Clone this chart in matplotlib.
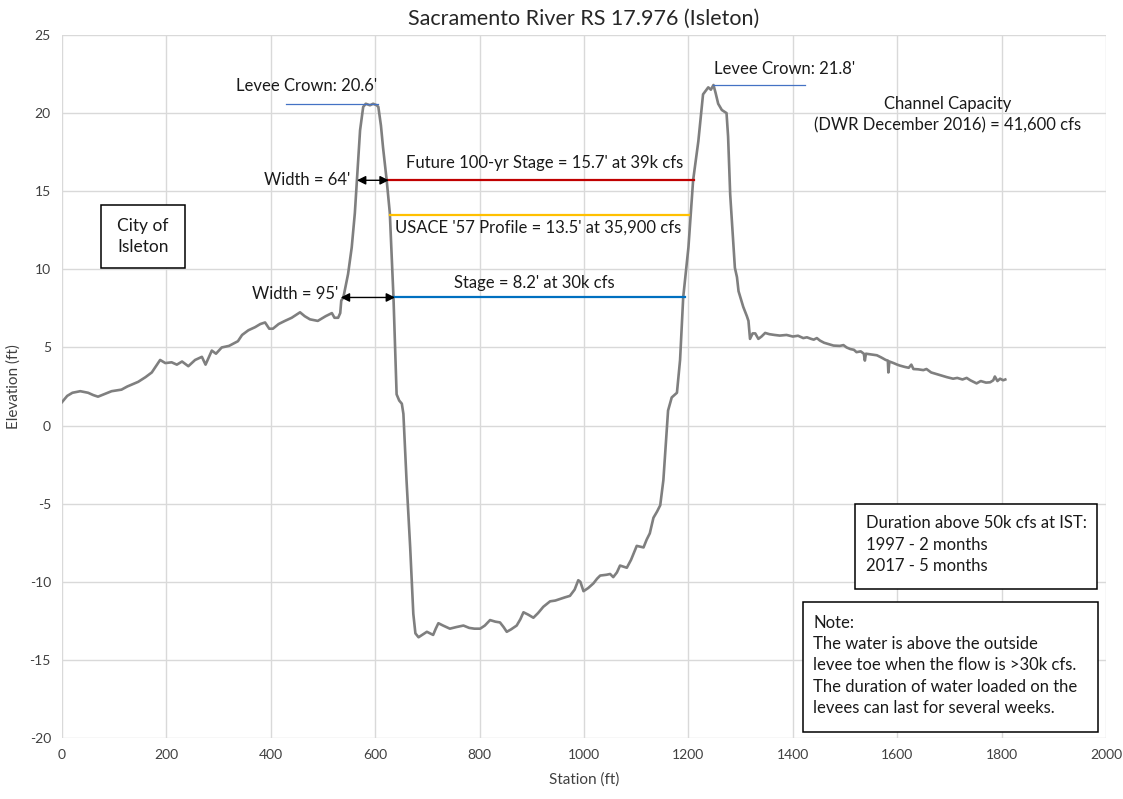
import matplotlib
matplotlib.use("Agg")
import matplotlib.pyplot as plt
from matplotlib.patches import Rectangle

plt.rcParams['font.family'] = ['Lato', 'DejaVu Sans']
plt.rcParams['axes.unicode_minus'] = False

# ---- data ----
station = [0, 10, 20, 35, 50, 60, 69, 80, 95, 114, 125, 146, 160, 172, 182, 188, 198, 210, 220, 230,
           242, 255, 268, 275, 287, 295, 306, 320, 337, 345, 357, 370, 380, 389, 397, 404, 415, 427, 440, 456,
           465, 475, 490, 505, 517, 522, 529, 533, 535, 539, 548, 555, 561, 565, 571, 577, 582, 590, 596, 603,
           606, 611, 615, 622, 628, 635, 638, 641, 646, 651, 654, 660, 667, 673, 677, 683, 690, 699, 705, 711,
           716, 721, 730, 743, 755, 769, 780, 790, 801, 810, 820, 830, 839, 846, 852, 860, 871, 878, 884, 893,
           903, 912, 922, 935, 945, 954, 963, 973, 982, 989, 993, 999, 1008, 1018, 1025, 1031, 1043, 1050, 1056, 1063,
           1069, 1082, 1090, 1101, 1108, 1114, 1120, 1126, 1133, 1140, 1146, 1152, 1157, 1161, 1168, 1178, 1184, 1190, 1200, 1209,
           1219, 1228, 1238, 1243, 1248, 1252, 1257, 1264, 1273, 1276, 1280, 1289, 1293, 1296, 1305, 1312, 1315, 1318, 1323, 1328,
           1334, 1340, 1347, 1355, 1365, 1375, 1388, 1400, 1410, 1420, 1427, 1435, 1440, 1446, 1452, 1460, 1470, 1478, 1490, 1497,
           1503, 1510, 1517, 1522, 1530, 1536, 1538, 1540, 1550, 1561, 1570, 1578, 1582, 1583, 1585, 1593, 1600, 1605, 1615, 1622,
           1627, 1631, 1640, 1650, 1656, 1665, 1675, 1685, 1695, 1707, 1715, 1725, 1733, 1740, 1752, 1760, 1770, 1778, 1784, 1787,
           1792, 1797, 1803, 1807]
elevation = [1.5, 1.9, 2.1, 2.2, 2.1, 1.95, 1.85, 2.0, 2.2, 2.3, 2.5, 2.8, 3.1, 3.4, 3.9, 4.2, 4.0, 4.05, 3.9, 4.1,
             3.8, 4.2, 4.4, 3.9, 4.8, 4.6, 5.0, 5.1, 5.4, 5.8, 6.1, 6.3, 6.5, 6.6, 6.2, 6.2, 6.5, 6.7, 6.9, 7.25,
             7.0, 6.8, 6.7, 7.0, 7.2, 6.9, 6.9, 7.2, 8.0, 8.2, 9.7, 11.4, 13.6, 15.7, 18.9, 20.4, 20.6, 20.5, 20.6, 20.5,
             20.4, 19.2, 17.8, 15.7, 13.6, 8.2, 5.0, 2.0, 1.6, 1.4, 0.75, -3.5, -7.8, -12.05, -13.3, -13.55, -13.4, -13.2, -13.3, -13.4,
             -13.0, -12.65, -12.8, -13.0, -12.9, -12.8, -12.95, -13.0, -13.0, -12.8, -12.45, -12.55, -12.6, -12.9, -13.2, -13.05, -12.8, -12.4, -11.95, -12.1,
             -12.3, -12.0, -11.6, -11.25, -11.2, -11.1, -11.0, -10.9, -10.5, -9.9, -10.0, -10.6, -10.4, -10.1, -9.8, -9.6, -9.55, -9.5, -9.7, -9.4,
             -8.96, -9.1, -8.6, -7.7, -7.75, -7.8, -7.3, -6.9, -5.9, -5.5, -5.1, -3.5, -1.0, 0.96, 1.8, 2.1, 4.2, 8.2, 11.4, 15.7,
             18.2, 21.2, 21.65, 21.5, 21.8, 21.3, 20.6, 20.2, 20.0, 18.5, 14.8, 10.1, 9.5, 8.6, 7.6, 7.0, 6.7, 5.55, 5.9, 5.9,
             5.55, 5.7, 5.93, 5.85, 5.8, 5.76, 5.8, 5.7, 5.75, 5.6, 5.65, 5.55, 5.5, 5.6, 5.44, 5.3, 5.2, 5.12, 5.1, 5.15,
             5.0, 4.9, 4.85, 4.7, 4.75, 4.6, 4.16, 4.6, 4.55, 4.5, 4.35, 4.2, 4.16, 3.4, 4.1, 4.0, 3.9, 3.84, 3.75, 3.7,
             3.9, 3.62, 3.6, 3.55, 3.62, 3.4, 3.3, 3.2, 3.1, 3.0, 3.05, 2.95, 3.05, 2.9, 2.7, 2.85, 2.75, 2.77, 2.9, 3.14,
             2.85, 3.0, 2.9, 2.95]

left_crown = 20.6
right_crown = 21.8
future_stage = 15.7
usace_stage = 13.5
stage_30k = 8.2

x_ticks = [0, 200, 400, 600, 800, 1000, 1200, 1400, 1600, 1800, 2000]
y_ticks = [-20, -15, -10, -5, 0, 5, 10, 15, 20, 25]

fig = plt.figure(figsize=(11.23, 7.99), dpi=100)
ax = fig.add_axes([0.0552, 0.0763, 0.9297, 0.8799])

ax.plot(station, elevation, color='#7F7F7F', lw=1.9, zorder=3, solid_joinstyle='round')

# water level lines
ax.plot([625, 1211], [future_stage, future_stage], color='#C00000', lw=1.6, zorder=4)
ax.plot([628, 1201], [usace_stage, usace_stage], color='#FFC000', lw=1.6, zorder=4)
ax.plot([636, 1193], [stage_30k, stage_30k], color='#0070C0', lw=1.6, zorder=4)
# crown lines
ax.plot([429, 605], [left_crown, left_crown], color='#4472C4', lw=0.9, zorder=4)
ax.plot([1247, 1423], [right_crown, right_crown], color='#4472C4', lw=0.9, zorder=4)

fs = 12
tc = '#1a1a1a'
ax.text(468, 21.75, "Levee Crown: 20.6'", ha='center', va='center', fontsize=fs, color=tc)
ax.text(1385, 22.8, "Levee Crown: 21.8'", ha='center', va='center', fontsize=fs, color=tc)
ax.text(1697, 19.9, "Channel Capacity\n(DWR December 2016) = 41,600 cfs", ha='center', va='center',
        fontsize=fs, linespacing=1.4, color=tc)
ax.text(925, 16.8, "Future 100-yr Stage = 15.7' at 39k cfs", ha='center', va='center', fontsize=fs, color=tc)
ax.text(912, 12.7, "USACE '57 Profile = 13.5' at 35,900 cfs", ha='center', va='center', fontsize=fs, color=tc)
ax.text(904, 9.1, "Stage = 8.2' at 30k cfs", ha='center', va='center', fontsize=fs, color=tc)
ax.text(553, 15.7, "Width = 64'", ha='right', va='center', fontsize=fs, color=tc)
ax.text(529, 8.4, "Width = 95'", ha='right', va='center', fontsize=fs, color=tc)

arrow_kw = dict(arrowstyle='<|-|>', color='black', lw=1.0, mutation_scale=13, shrinkA=0, shrinkB=0)
ax.annotate('', xy=(565, future_stage), xytext=(626, future_stage), arrowprops=arrow_kw, zorder=5)
ax.annotate('', xy=(534, stage_30k), xytext=(638, stage_30k), arrowprops=arrow_kw, zorder=5)

# text boxes
ax.add_patch(Rectangle((75, 10.1), 161, 4.05, fc='white', ec='black', lw=1.1, zorder=5))
ax.text(155.5, 12.1, "City of\nIsleton", ha='center', va='center', fontsize=12.5, linespacing=1.4,
        color=tc, zorder=6)

ax.add_patch(Rectangle((1519, -10.43), 464, 5.44, fc='white', ec='black', lw=1.1, zorder=5))
ax.text(1540, -7.62, "Duration above 50k cfs at IST:\n1997 - 2 months\n2017 - 5 months",
        ha='left', va='center', fontsize=fs, linespacing=1.4, color=tc, zorder=6)

ax.add_patch(Rectangle((1420, -19.59), 565, 8.32, fc='white', ec='black', lw=1.1, zorder=5))
ax.text(1439, -15.35, "Note:\nThe water is above the outside\nlevee toe when the flow is >30k cfs.\n"
        "The duration of water loaded on the\nlevees can last for several weeks.",
        ha='left', va='center', fontsize=fs, linespacing=1.4, color=tc, zorder=6)

ax.set_xlim(0, 2000)
ax.set_ylim(-20, 25)
ax.set_xticks(x_ticks)
ax.set_yticks(y_ticks)
ax.grid(True, color='#D9D9D9', lw=1.0, zorder=0)
ax.set_axisbelow(True)
for s in ax.spines.values():
    s.set_visible(False)
ax.tick_params(length=0, labelsize=10, colors='#404040', pad=8)
ax.set_xlabel("Station (ft)", fontsize=11, color='#404040', labelpad=8)
ax.set_ylabel("Elevation (ft)", fontsize=11, color='#404040', labelpad=6)
ax.set_title("Sacramento River RS 17.976 (Isleton)", fontsize=15.5, color='#262626', pad=7)

fig.savefig("out.png", dpi=100)
